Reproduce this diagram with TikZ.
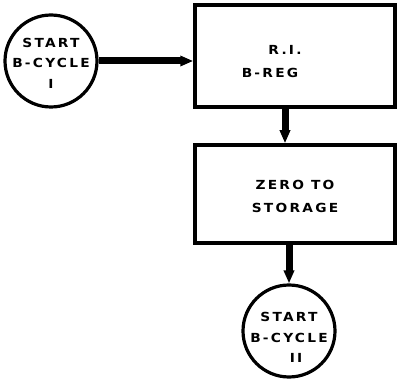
\documentclass[tikz,border=0pt]{standalone}
\usepackage{fontspec}
\usepackage{tikz}
\usetikzlibrary{arrows.meta,calc}
\newfontfamily\chartfont{DejaVu Sans}[FakeStretch=1.1,LetterSpace=18]

\begin{document}
\begin{tikzpicture}[
  x=1pt, y=1pt,
  font=\chartfont\bfseries\fontsize{12.5}{23}\selectfont,
  term/.style={
    circle, draw=black, line width=3.2pt, fill=white,
    minimum size=92pt, inner sep=-15pt, align=center,
    font=\chartfont\bfseries\fontsize{12.5}{20.5}\selectfont
  },
  proc/.style={
    rectangle, draw=black, line width=3.5pt, fill=white,
    minimum width=200pt, inner sep=0pt, align=center
  },
  flow/.style={
    -{Triangle[length=13pt,width=10pt]},
    draw=black, line width=7pt
  }
]
\useasboundingbox (0,0) rectangle (399,-382);

% ---- nodes ----------------------------------------------------------------
\node[term] (startA) at (51,-61)   {\rule{0pt}{14pt}START\\B-CYCLE\\I};
\node[proc, minimum height=102pt] (regB)  at (295,-56)
  {\rule{0pt}{20pt}R.I.\hspace*{20pt}\\B-REG\hspace*{50pt}};
\node[proc, minimum height=98pt]  (zeroS) at (295,-194)
  {\rule{0pt}{14pt}ZERO TO\\STORAGE};
\node[term] (startB) at (289,-331)
  {\rule{0pt}{22pt}START\\B-CYCLE\\\hspace*{14pt}II};

% ---- arrows ---------------------------------------------------------------
\draw[flow] (startA.east) -- (startA.east -| regB.west);
\draw[flow] ([xshift=-10pt]regB.south) -- ([xshift=-10pt]zeroS.north);
\draw[flow] (zeroS.south -| startB.north) -- (startB.north);

\end{tikzpicture}
\end{document}
